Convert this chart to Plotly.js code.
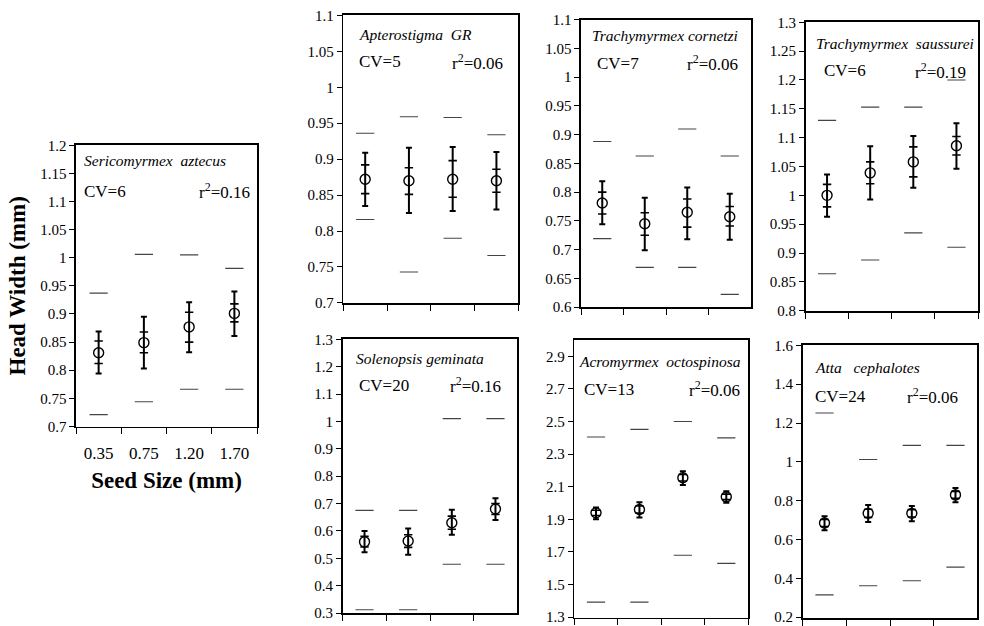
<!DOCTYPE html>
<html>
<head>
<meta charset="utf-8">
<script src="https://cdn.plot.ly/plotly-3.0.1.min.js"></script>
<style>html,body{margin:0;padding:0;background:#fff;}#chart{width:984px;height:626px;}</style>
</head>
<body>
<div id="chart"></div>
<script>
// ---- Data ----
const categories = ['0.35', '0.75', '1.20', '1.70'];

const speciesNames = ['Sericomyrmex\u00A0\u00A0aztecus', 'Apterostigma\u00A0\u00A0GR', 'Trachymyrmex cornetzi',
  'Trachymyrmex\u00A0\u00A0saussurei', 'Solenopsis geminata', 'Acromyrmex\u00A0\u00A0octospinosa', 'Atta\u00A0\u00A0\u00A0cephalotes'];
const cvValues = ['6', '5', '7', '6', '20', '13', '24'];
const r2Values = ['0.16', '0.06', '0.06', '0.19', '0.16', '0.06', '0.06'];

// Sericomyrmex aztecus
const seriMean = [0.831, 0.849, 0.877, 0.901];
const seriHi   = [0.869, 0.895, 0.921, 0.940];
const seriLo   = [0.794, 0.803, 0.832, 0.861];
const seriSeHi = [0.852, 0.868, 0.903, 0.918];
const seriSeLo = [0.812, 0.831, 0.850, 0.886];
const seriMax  = [0.937, 1.006, 1.005, 0.981];
const seriMin  = [0.721, 0.744, 0.766, 0.766];

// Apterostigma GR
const apteMean = [0.872, 0.870, 0.872, 0.870];
const apteHi   = [0.909, 0.916, 0.917, 0.910];
const apteLo   = [0.835, 0.825, 0.828, 0.830];
const apteSeHi = [0.892, 0.888, 0.898, 0.886];
const apteSeLo = [0.852, 0.851, 0.847, 0.854];
const apteMax  = [0.936, 0.959, 0.958, 0.934];
const apteMin  = [0.816, 0.743, 0.790, 0.766];

// Trachymyrmex cornetzi
const cornMean = [0.781, 0.745, 0.765, 0.757];
const cornHi   = [0.819, 0.790, 0.808, 0.797];
const cornLo   = [0.744, 0.699, 0.718, 0.717];
const cornSeHi = [0.800, 0.764, 0.788, 0.775];
const cornSeLo = [0.762, 0.725, 0.739, 0.741];
const cornMax  = [0.888, 0.863, 0.910, 0.863];
const cornMin  = [0.719, 0.669, 0.669, 0.622];

// Trachymyrmex saussurei
const sausMean = [1.000, 1.039, 1.058, 1.086];
const sausHi   = [1.036, 1.085, 1.103, 1.125];
const sausLo   = [0.963, 0.993, 1.013, 1.046];
const sausSeHi = [1.019, 1.058, 1.084, 1.102];
const sausSeLo = [0.980, 1.020, 1.032, 1.070];
const sausMax  = [1.130, 1.153, 1.153, 1.200];
const sausMin  = [0.864, 0.888, 0.935, 0.910];

// Solenopsis geminata
const soleMean = [0.560, 0.563, 0.630, 0.680];
const soleHi   = [0.600, 0.609, 0.677, 0.719];
const soleLo   = [0.522, 0.513, 0.586, 0.640];
const soleSeHi = [0.580, 0.586, 0.654, 0.700];
const soleSeLo = [0.541, 0.540, 0.606, 0.660];
const soleMax  = [0.675, 0.675, 1.010, 1.010];
const soleMin  = [0.312, 0.312, 0.478, 0.478];

// Acromyrmex octospinosa
const acroMean = [1.940, 1.960, 2.155, 2.038];
const acroHi   = [1.972, 2.005, 2.195, 2.073];
const acroLo   = [1.900, 1.912, 2.110, 2.002];
const acroSeHi = [1.956, 1.982, 2.175, 2.055];
const acroSeLo = [1.924, 1.938, 2.135, 2.021];
const acroMax  = [2.405, 2.452, 2.500, 2.400];
const acroMin  = [1.392, 1.392, 1.680, 1.630];

// Atta cephalotes
const attaMean = [0.685, 0.735, 0.735, 0.830];
const attaHi   = [0.720, 0.778, 0.773, 0.866];
const attaLo   = [0.648, 0.690, 0.694, 0.792];
const attaSeHi = [0.703, 0.756, 0.754, 0.848];
const attaSeLo = [0.667, 0.714, 0.716, 0.812];
const attaMax  = [1.252, 1.012, 1.085, 1.085];
const attaMin  = [0.315, 0.362, 0.388, 0.458];

const panelData = [
  [seriMean, seriHi, seriLo, seriSeHi, seriSeLo, seriMax, seriMin],
  [apteMean, apteHi, apteLo, apteSeHi, apteSeLo, apteMax, apteMin],
  [cornMean, cornHi, cornLo, cornSeHi, cornSeLo, cornMax, cornMin],
  [sausMean, sausHi, sausLo, sausSeHi, sausSeLo, sausMax, sausMin],
  [soleMean, soleHi, soleLo, soleSeHi, soleSeLo, soleMax, soleMin],
  [acroMean, acroHi, acroLo, acroSeHi, acroSeLo, acroMax, acroMin],
  [attaMean, attaHi, attaLo, attaSeHi, attaSeLo, attaMax, attaMin]
];

// ---- Layout geometry (pixels) ----
const W = 984, H = 626;
const panels = [
  {x0: 76,    x1: 257,   y0: 145,  y1: 426.7, yr: [0.6995, 1.2005], dt: 0.05, t0: 0.7},
  {x0: 343.3, x1: 518.3, y0: 15,   y1: 303.3, yr: [0.6995, 1.1005], dt: 0.05, t0: 0.7},
  {x0: 581,   x1: 751,   y0: 19.5, y1: 307.3, yr: [0.5995, 1.1005], dt: 0.05, t0: 0.6},
  {x0: 805.5, x1: 978,   y0: 22,   y1: 311,   yr: [0.7995, 1.3005], dt: 0.05, t0: 0.8},
  {x0: 342.7, x1: 517.3, y0: 339,  y1: 613.3, yr: [0.299, 1.301],   dt: 0.1,  t0: 0.3},
  {x0: 574.3, x1: 748,   y0: 340,  y1: 617.5, yr: [1.298, 3.0],     dt: 0.2,  t0: 1.3},
  {x0: 802.7, x1: 977.3, y0: 345,  y1: 618,   yr: [0.196, 1.602],   dt: 0.2,  t0: 0.2}
];
// annotation anchor positions (pixels): name (x,y), CV (x,y), r2 right edge (x,y)
const annPos = [
  {nx: 82,  ny: 161, cx: 82,  cy: 191, rx: 252, ry: 191},
  {nx: 357, ny: 34,  cx: 357, cy: 62,  rx: 505, ry: 62},
  {nx: 590, ny: 35,  cx: 595, cy: 63,  rx: 740, ry: 63},
  {nx: 814, ny: 43,  cx: 822, cy: 71,  rx: 968, ry: 71},
  {nx: 354, ny: 358, cx: 357, cy: 385, rx: 503, ry: 385},
  {nx: 577, ny: 361, cx: 582, cy: 389, rx: 742, ry: 389},
  {nx: 813, ny: 367, cx: 813, cy: 396, rx: 960, ry: 396}
];

const FONT = "'Liberation Serif', 'DejaVu Serif', serif";
const traces = [];
const layout = {
  width: W, height: H,
  margin: {l: 0, r: 0, t: 0, b: 0},
  paper_bgcolor: '#fff', plot_bgcolor: '#fff',
  showlegend: false,
  font: {family: FONT, color: '#000', size: 14},
  annotations: []
};

panels.forEach((p, i) => {
  const n = i + 1;
  const xa = n === 1 ? 'x' : 'x' + n;
  const ya = n === 1 ? 'y' : 'y' + n;
  const xk = n === 1 ? 'xaxis' : 'xaxis' + n;
  const yk = n === 1 ? 'yaxis' : 'yaxis' + n;
  const [mean, hi, lo, seHi, seLo, mx, mn] = panelData[i];

  // range (min / max) dashes
  traces.push({
    type: 'scatter', mode: 'markers', xaxis: xa, yaxis: ya,
    x: categories.concat(categories), y: mx.concat(mn),
    marker: {symbol: 'line-ew', size: 13, line: {width: 1.1, color: '#444'}},
    hoverinfo: 'y'
  });
  // mean with confidence bar
  traces.push({
    type: 'scatter', mode: 'markers', xaxis: xa, yaxis: ya,
    x: categories, y: mean,
    marker: {symbol: 'circle-open', size: 10, color: '#000', line: {width: 1.4, color: '#000'}},
    error_y: {
      type: 'data', symmetric: false,
      array: hi.map((v, k) => v - mean[k]),
      arrayminus: lo.map((v, k) => mean[k] - v),
      thickness: 2, width: 3, color: '#000'
    }
  });
  // inner (standard error) tick marks
  traces.push({
    type: 'scatter', mode: 'markers', xaxis: xa, yaxis: ya,
    x: categories.concat(categories), y: seHi.concat(seLo),
    marker: {symbol: 'line-ew', size: 6, line: {width: 1.6, color: '#000'}},
    hoverinfo: 'y'
  });

  layout[xk] = {
    domain: [p.x0 / W, p.x1 / W],
    anchor: ya,
    type: 'category',
    categoryorder: 'array', categoryarray: categories,
    range: [-0.5, 3.5],
    tickson: 'boundaries',
    ticks: 'outside', ticklen: 6, tickwidth: 1, tickcolor: '#000',
    showticklabels: n === 1,
    ticklabelstandoff: 10,
    tickfont: {family: FONT, size: 17, color: '#000'},
    showline: true, mirror: true, linecolor: '#000', linewidth: 1.6,
    showgrid: false, zeroline: false, fixedrange: true
  };
  layout[yk] = {
    domain: [1 - p.y1 / H, 1 - p.y0 / H],
    anchor: xa,
    range: p.yr,
    tick0: p.t0, dtick: p.dt,
    ticks: 'outside', ticklen: 5, tickwidth: 1, tickcolor: '#000',
    ticklabeloverflow: 'allow',
    tickfont: {family: FONT, size: 15, color: '#000'},
    showline: true, mirror: true, linecolor: '#000', linewidth: 1.6,
    showgrid: false, zeroline: false, fixedrange: true
  };
  if (n === 1) {
    layout[xk].title = {text: 'Seed Size (mm)', font: {family: FONT, size: 23, color: '#000', weight: 'bold'}, standoff: 10};
    layout[yk].title = {text: 'Head Width (mm)', font: {family: FONT, size: 23, color: '#000', weight: 'bold'}, standoff: 8};
  }

  const a = annPos[i];
  layout.annotations.push({
    xref: 'paper', yref: 'paper', x: a.nx / W, y: 1 - a.ny / H,
    xanchor: 'left', yanchor: 'middle', showarrow: false,
    text: '<i>' + speciesNames[i] + '</i>',
    font: {family: FONT, size: 15.5, color: '#000'}
  });
  layout.annotations.push({
    xref: 'paper', yref: 'paper', x: a.cx / W, y: 1 - a.cy / H,
    xanchor: 'left', yanchor: 'middle', showarrow: false,
    text: 'CV=' + cvValues[i],
    font: {family: FONT, size: 17, color: '#000'}
  });
  layout.annotations.push({
    xref: 'paper', yref: 'paper', x: a.rx / W, y: 1 - a.ry / H,
    xanchor: 'right', yanchor: 'middle', showarrow: false,
    text: 'r<sup>2</sup>=' + r2Values[i],
    font: {family: FONT, size: 17, color: '#000'}
  });
});

Plotly.newPlot('chart', traces, layout, {staticPlot: true, displayModeBar: false});
</script>
</body>
</html>
